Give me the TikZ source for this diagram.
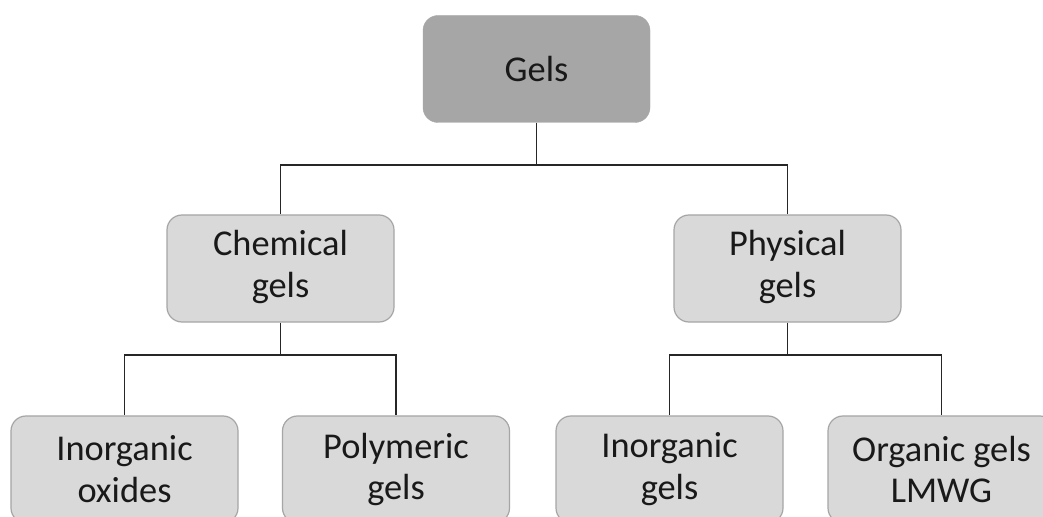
\documentclass[tikz,border=0pt]{standalone}
\usepackage{fontspec}
\setmainfont{Carlito}
\newcommand{\twolines}[2]{\raisebox{-2bp}{\begin{tabular}{@{}c@{}}#1\\#2\end{tabular}}}
\begin{document}
\begin{tikzpicture}[x=1bp,y=-1bp,
  box/.style={rounded corners=15bp, minimum width=227bp, minimum height=107bp,
    align=center, font=\fontsize{36.5}{42}\selectfont, inner sep=0pt, text=black!90},
  topbox/.style={box, fill=gray!70!white, draw=gray!70!white},
  subbox/.style={box, fill=black!15, draw=black!35, line width=1.2bp},
  conn/.style={draw=black!85, line width=1.3bp}]
\useasboundingbox (0,0) rectangle (1043,517);
\clip (0,0) rectangle (1043,517);
\fill[white] (0,0) rectangle (1043,517);
\node[topbox] (gels) at (536.5,69) {\raisebox{-2bp}{Gels}};
\node[subbox] (chem) at (280.5,268.5) {\twolines{Chemical}{gels}};
\node[subbox] (phys) at (787.5,268.5) {\twolines{Physical}{gels}};
\node[subbox] (inox) at (124.5,469.5) {Inorganic\\oxides};
\node[subbox] (poly) at (396,469.5) {Polymeric\\gels};
\node[subbox] (inge) at (669.5,469.5) {Inorganic\\gels};
\node[subbox] (orga) at (941.5,469.5) {Organic gels\\LMWG};
\coordinate (j0) at (536.5,165);
\coordinate (j1) at (280.5,355);
\coordinate (j2) at (787.5,355);
\draw[conn] (gels.south) -- (j0);
\draw[conn] (j0) -| (chem.north);
\draw[conn] (j0) -| (phys.north);
\draw[conn] (chem.south) -- (j1);
\draw[conn] (j1) -| (inox.north);
\draw[conn] (j1) -| (poly.north);
\draw[conn] (phys.south) -- (j2);
\draw[conn] (j2) -| (inge.north);
\draw[conn] (j2) -| (orga.north);
\end{tikzpicture}
\end{document}
